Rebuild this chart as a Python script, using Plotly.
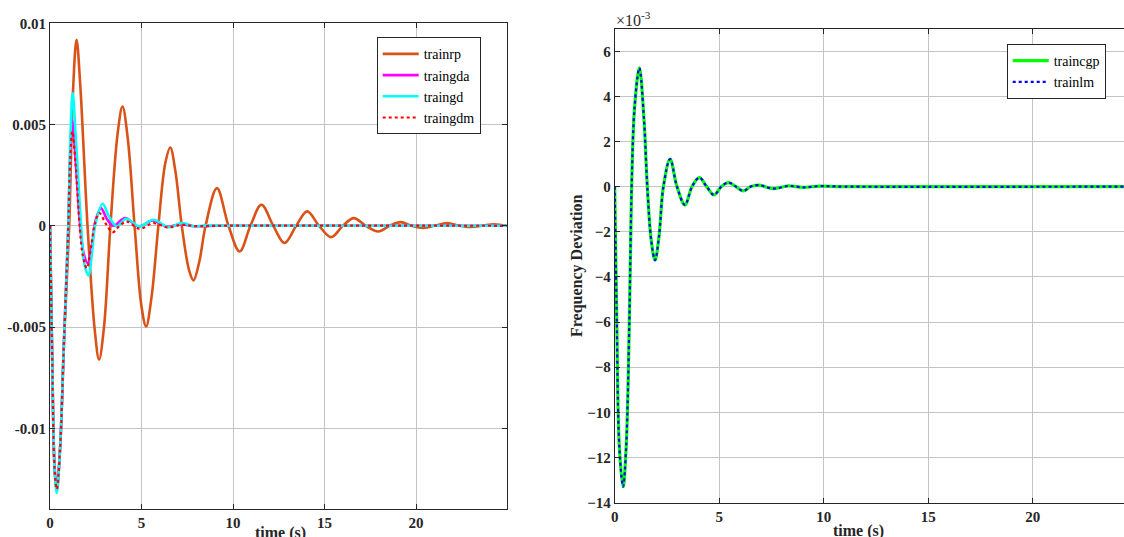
import plotly.graph_objects as go

# ---------------- data (left panel, values in units of 1e-3) ----------------
t_rp = [0, 0.12, 0.25, 0.37, 0.55, 0.8, 1.05, 1.25, 1.45, 1.65, 2.05, 2.45, 2.68, 2.95, 3.3,
        3.70, 3.96, 4.25, 4.62, 5.0, 5.25, 5.55, 5.92, 6.3, 6.57, 6.85, 7.2, 7.6, 7.84, 8.15,
        8.5, 9.12, 9.75, 10.36, 10.95, 11.55, 12.2, 12.81, 13.45, 14.05, 14.7, 15.36, 16.0,
        16.6, 17.25, 17.93, 18.55, 19.16, 19.75, 20.34, 21.0, 21.7, 22.35, 23.0, 23.6, 24.27, 24.95]
v_rp = [0, -6.5, -11.8, -13.1, -11.0, -5.0, 0, 6.5, 9.18, 7.0, 0, -5.2, -6.61, -5.0, 0,
        4.6, 5.89, 4.3, 0, -4.0, -4.97, -3.5, 0, 3.1, 3.87, 2.7, 0, -2.2, -2.7, -1.8,
        0, 1.86, 0, -1.27, 0, 1.04, 0, -0.85, 0, 0.71, 0, -0.56, 0,
        0.38, 0, -0.28, 0, 0.18, 0, -0.11, 0, 0.13, 0, -0.06, 0, 0.08, 0]

t_gda = [0, 0.12, 0.25, 0.37, 0.55, 0.75, 1.0, 1.1, 1.22, 1.38, 1.65, 1.85, 2.06, 2.3, 2.5,
         2.79, 3.1, 3.47, 4.1, 4.83, 5.62, 6.4, 7.1, 7.9, 9.0, 24.95]
v_gda = [0, -6.5, -12.0, -13.0, -11.0, -6.0, 0, 3.5, 5.2, 3.5, 0, -1.4, -1.84, -0.9, 0.3,
         0.87, 0.35, 0.0, 0.38, -0.03, 0.26, -0.05, 0.08, -0.02, 0, 0]

t_gd = [0, 0.12, 0.25, 0.37, 0.55, 0.75, 1.0, 1.12, 1.24, 1.4, 1.7, 1.88, 2.1, 2.3, 2.46,
        2.88, 3.2, 3.65, 4.16, 4.89, 5.65, 6.47, 7.2, 7.9, 8.6, 10.0, 24.95]
v_gd = [0, -6.5, -12.0, -13.2, -11.0, -6.0, 0, 4.5, 6.55, 4.5, 0, -1.9, -2.45, -1.3, 0,
        1.09, 0.5, -0.03, 0.35, -0.03, 0.3, -0.07, 0.13, -0.02, 0.02, 0, 0]

t_gdm = [0, 0.12, 0.25, 0.37, 0.55, 0.75, 1.0, 1.1, 1.22, 1.4, 1.62, 1.8, 2.01, 2.25, 2.45,
         2.7, 3.05, 3.43, 3.8, 4.2, 4.89, 5.65, 6.44, 7.2, 8.0, 9.0, 24.95]
v_gdm = [0, -6.5, -12.0, -13.0, -11.0, -6.0, 0, 3.2, 4.66, 3.0, 0, -1.5, -2.09, -1.0, 0.1,
         0.63, 0.1, -0.31, 0, 0.21, -0.15, 0.13, -0.08, 0.05, -0.02, 0, 0]

# ---------------- data (right panel, values in units of 1e-3) ----------------
t_cgp = [0, 0.1, 0.22, 0.4, 0.55, 0.7, 0.81, 0.95, 1.18, 1.4, 1.56, 1.75, 1.93, 2.12, 2.33,
         2.65, 2.98, 3.36, 3.7, 4.05, 4.4, 4.75, 5.1, 5.44, 5.8, 6.15, 6.5, 6.87, 7.59, 8.31,
         9.0, 9.8, 11.0, 25.0]
v_cgp = [0, -6.0, -11.5, -13.3, -11.5, -6.0, 0, 3.5, 5.26, 3.0, 0, -2.4, -3.26, -2.2, 0,
         1.22, 0.0, -0.81, 0, 0.40, 0, -0.37, 0, 0.18, 0, -0.19, 0, 0.07, -0.09, 0.03,
         -0.03, 0.02, 0, 0]
t_lm = t_cgp
v_lm = v_cgp

left_yticks = [-10, -5, 0, 5, 10]
left_yticktext = ["-0.01", "-0.005", "0", "0.005", "0.01"]
xticks = [0, 5, 10, 15, 20]
right_yticks = [-14, -12, -10, -8, -6, -4, -2, 0, 2, 4, 6]

# ---------------- figure ----------------
W, H = 1124, 537
FONT = "Liberation Serif, Times New Roman, serif"
AX = "#262626"
GRID = "#c4c4c4"

fig = go.Figure()


def add(x, y, name, color, width, dash, xa, ya, leg):
    fig.add_trace(go.Scatter(x=x, y=y, name=name, mode="lines",
                             line=dict(color=color, width=width, dash=dash, shape="spline", smoothing=1.0),
                             xaxis=xa, yaxis=ya, legend=leg))


add(t_rp, v_rp, "trainrp", "#D95319", 2.6, "solid", "x", "y", "legend")
add(t_gda, v_gda, "traingda", "#FF00FF", 2.6, "solid", "x", "y", "legend")
add(t_gd, v_gd, "traingd", "#00FFFF", 2.6, "solid", "x", "y", "legend")
add(t_gdm, v_gdm, "traingdm", "#FF0000", 2.2, "dot", "x", "y", "legend")
add(t_cgp, v_cgp, "traincgp", "#00FF00", 3.2, "solid", "x2", "y2", "legend2")
add(t_lm, v_lm, "trainlm", "#0000FF", 2.2, "dot", "x2", "y2", "legend2")

tickfont = dict(family=FONT, size=15, color=AX, weight="bold")
common = dict(showgrid=True, gridcolor=GRID, gridwidth=1, zeroline=False, showline=True,
              linecolor=AX, linewidth=1, ticks="inside", ticklen=5, tickcolor=AX,
              tickfont=tickfont, automargin=False)

legfont = dict(family=FONT, size=14, color="black")

fig.update_layout(
    width=W, height=H, margin=dict(l=0, r=0, t=0, b=0, autoexpand=False),
    paper_bgcolor="white", plot_bgcolor="white",
    xaxis=dict(domain=[50 / W, 506.7 / W], range=[0, 24.95], tickvals=xticks, mirror="ticks",
               anchor="y", **common),
    yaxis=dict(domain=[1 - 509.3 / H, 1 - 23.3 / H], range=[-14, 10], tickvals=left_yticks,
               ticktext=left_yticktext, mirror="ticks", anchor="x", **common),
    xaxis2=dict(domain=[614.7 / W, 1.0], range=[0, (W - 614.7) / 20.9], tickvals=xticks,
                mirror="ticks", anchor="y2", **common),
    yaxis2=dict(domain=[1 - 502.5 / H, 1 - 28.7 / H], range=[-14, 7], tickvals=right_yticks,
                mirror=False, anchor="x2", **common),
    legend=dict(x=376.7 / W, y=1 - 37.3 / H, xanchor="left", yanchor="top",
                bgcolor="white", bordercolor=AX, borderwidth=1, itemwidth=36,
                tracegroupgap=0, font=legfont),
    legend2=dict(x=1006.7 / W, y=1 - 44 / H, xanchor="left", yanchor="top",
                 bgcolor="white", bordercolor=AX, borderwidth=1, itemwidth=36,
                 tracegroupgap=0, font=legfont),
    showlegend=True,
)

fig.add_annotation(text="time (s)", x=280 / W, y=1 - 533 / H, xref="paper", yref="paper",
                   xanchor="center", yanchor="middle",
                   showarrow=False, font=dict(family=FONT, size=16, color=AX, weight="bold"))
fig.add_annotation(text="time (s)", x=858 / W, y=1 - 531 / H, xref="paper", yref="paper",
                   xanchor="center", yanchor="middle",
                   showarrow=False, font=dict(family=FONT, size=16, color=AX, weight="bold"))
fig.add_annotation(text="Frequency Deviation", x=577 / W, y=1 - 266 / H, xref="paper", yref="paper",
                   xanchor="center", yanchor="middle", showarrow=False, textangle=-90,
                   font=dict(family=FONT, size=16, color=AX, weight="bold"))
fig.add_annotation(text="×10<sup>-3</sup>", x=614 / W, y=1 - 19 / H, xref="paper", yref="paper",
                   xanchor="left", yanchor="middle", showarrow=False,
                   font=dict(family=FONT, size=16, color=AX))

fig.write_html("out.html")
